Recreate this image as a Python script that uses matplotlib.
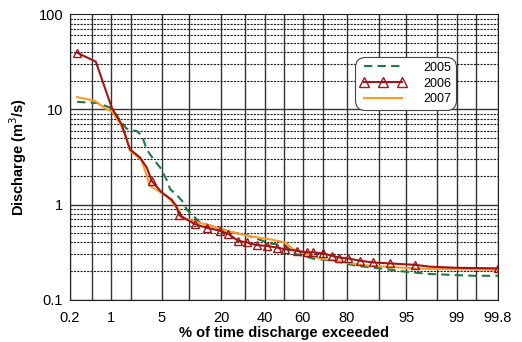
import numpy as np
import matplotlib
matplotlib.use('Agg')
import matplotlib.pyplot as plt
from statistics import NormalDist

plt.rcParams['font.family'] = ['Liberation Sans', 'DejaVu Sans']

# % of time exceeded and discharge (m3/s)
pct_2005 = [0.27, 0.6, 1.0, 1.4, 1.7, 2.4, 2.8, 3.25, 3.95, 4.8, 5.7, 6.3, 7.5, 8.5, 9.6,
            12.9, 16.0, 21.4, 23.4, 30.8, 42.5, 50.5, 56.7, 65.3, 74.6, 83.6, 90.2, 95.0,
            97.5, 99.45, 99.8]
q_2005 = [12.0, 11.7, 10.4, 7.6, 6.3, 5.9, 5.3, 3.8, 3.0, 2.45, 1.84, 1.45, 1.25, 1.1, 0.88,
          0.65, 0.6, 0.54, 0.515, 0.476, 0.39, 0.37, 0.30, 0.27, 0.256, 0.226, 0.213, 0.196,
          0.186, 0.178, 0.178]

pct_2006 = [0.27, 0.57, 1.03, 1.45, 1.92, 2.65, 3.25, 3.77, 5.0, 6.56, 7.3, 8.0, 11.6, 14.9,
            19.5, 22.7, 26.9, 30.8, 35.7, 40.8, 46.1, 50.5, 56.7, 62.0, 65.3, 70.1, 73.9,
            77.1, 80.6, 84.7, 88.5, 92.3, 96.1, 97.5, 99.0, 99.8]
q_2006 = [39.5, 31.8, 10.4, 6.96, 3.81, 3.11, 2.45, 1.77, 1.34, 1.12, 0.98, 0.77, 0.62, 0.57,
          0.53, 0.49, 0.415, 0.40, 0.374, 0.367, 0.353, 0.339, 0.326, 0.314, 0.314, 0.306, 0.29,
          0.277, 0.271, 0.256, 0.246, 0.240, 0.232, 0.222, 0.216, 0.213]
marks_2006 = [0, 7, 11] + list(range(12, 33)) + [35]

pct_2007 = [0.27, 0.55, 0.86, 1.03, 1.4, 1.63, 1.92, 2.39, 2.79, 3.25, 3.59, 4.55, 5.74, 7.15,
            7.8, 8.3, 11.1, 16.0, 22.1, 30.8, 42.5, 50.5, 55.0, 60.2, 68.6, 74.6, 80.0, 85.7,
            93.5, 97.5, 99.8]
q_2007 = [13.5, 12.3, 10.0, 9.6, 6.96, 5.5, 3.66, 3.24, 2.87, 2.0, 1.57, 1.39, 1.23, 0.97,
          0.89, 0.73, 0.67, 0.60, 0.53, 0.47, 0.43, 0.40, 0.34, 0.31, 0.27, 0.26, 0.245, 0.23,
          0.218, 0.21, 0.206]

xticks = [0.2, 1, 5, 20, 40, 60, 80, 95, 99, 99.8]
xgrid = [0.2, 0.5, 1, 2, 5, 10, 20, 30, 40, 50, 60, 70, 80, 90, 95, 98, 99, 99.5, 99.8]

nd = NormalDist()
_ppf = np.vectorize(nd.inv_cdf, otypes=[float])
_cdf = np.vectorize(nd.cdf, otypes=[float])


def fwd(p):
    p = np.clip(np.asarray(p, dtype=float) / 100.0, 1e-9, 1 - 1e-9)
    return _ppf(p)


def inv(z):
    return _cdf(np.asarray(z, dtype=float)) * 100.0


fig = plt.figure(figsize=(5.22, 3.42), dpi=100)
ax = fig.add_axes([0.134, 0.124, 0.820, 0.834])
ax.set_xscale('function', functions=(fwd, inv))
ax.set_yscale('log')
ax.set_xlim(0.2, 99.8)
ax.set_ylim(0.1, 100)

# grid
for g in xgrid:
    ax.axvline(g, color='#333333', lw=1.0, zorder=1)
for dec in [0.1, 1, 10]:
    ax.axhline(dec, color='#333333', lw=1.0, zorder=1)
    for k in range(2, 10):
        ax.axhline(dec * k, color='#222222', lw=0.8, ls=(0, (2, 1)), zorder=1)

ax.plot(pct_2005, q_2005, color='#1f7a3c', lw=1.5, ls=(0, (4, 2.5)), label='2005', zorder=3)
ax.plot(pct_2006, q_2006, color='#a01515', lw=1.5, marker='^', ms=6, mfc='none',
        mec='#a01515', mew=1.0, markevery=marks_2006, label='2006', zorder=4)
ax.plot(pct_2007, q_2007, color='#ff9a2a', lw=1.5, label='2007', zorder=3)

ax.set_xticks(xticks)
ax.set_xticklabels(['0.2', '1', '5', '20', '40', '60', '80', '95', '99', '99.8'])
ax.set_yticks([0.1, 1, 10, 100])
ax.set_yticklabels(['0.1', '1', '10', '100'])
ax.minorticks_off()
ax.tick_params(axis='x', length=0, labelsize=10.5, pad=8)
ax.tick_params(axis='y', length=0, labelsize=10.5, pad=5)
ax.set_xlabel('% of time discharge exceeded', fontsize=10.5, fontweight='bold', labelpad=1)
ax.set_ylabel('Discharge (m$^3$/s)', fontsize=10.5, fontweight='bold', labelpad=7)
for s in ax.spines.values():
    s.set_color('#222222')

leg = ax.legend(loc='upper left', bbox_to_anchor=(0.667, 0.851), borderaxespad=0,
                fontsize=9, numpoints=3, frameon=True, fancybox=True, framealpha=1,
                edgecolor='#444444', handlelength=3.6, borderpad=0.4, labelspacing=0.3,
                handletextpad=1.4)
leg.get_frame().set_linewidth(0.8)
leg.get_frame().set_boxstyle('round', pad=0, rounding_size=0.8)
leg.legend_handles[1].set_markersize(7.5)
leg.set_zorder(5)

fig.savefig('out.png', dpi=100)
